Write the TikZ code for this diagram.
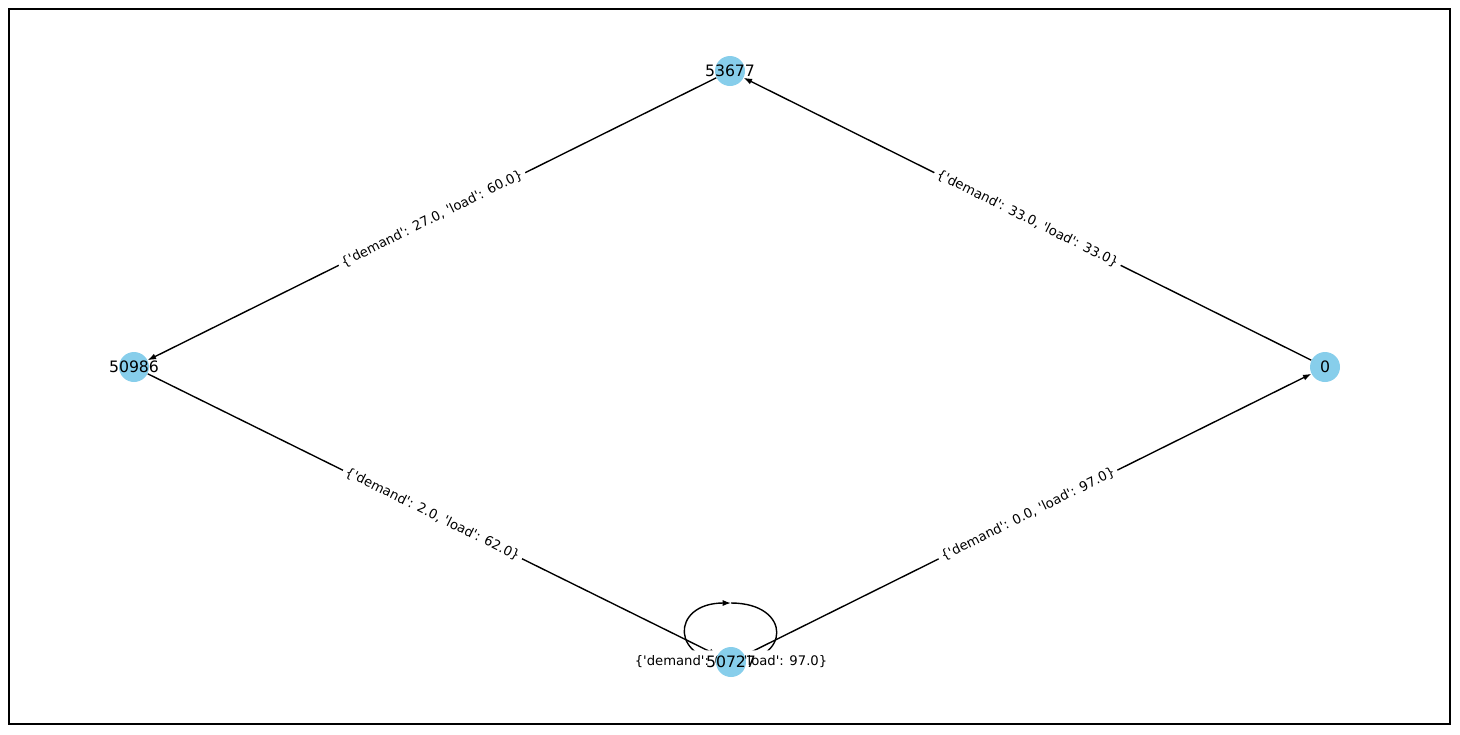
\documentclass[tikz,border=0pt]{standalone}
\usepackage{fontspec}
\newfontfamily\plotfont{DejaVu Sans}
\usetikzlibrary{arrows.meta}
\pgfdeclarelayer{back}
\pgfsetlayers{back,main}
\definecolor{skyblue}{HTML}{87CEEB}
\tikzset{
  vertex/.style={circle, fill=skyblue, inner sep=0pt, minimum size=21.6pt,
    label={[font=\plotfont\fontsize{11.3}{13}\selectfont]center:#1}},
  edge/.style={line width=1pt, -{Latex[length=6pt,width=4.4pt]}},
  elabel/.style={fill=white, inner xsep=2.5pt, inner ysep=4pt, rounded corners=2pt,
    font=\plotfont\fontsize{9.5}{11}\selectfont}
}
\begin{document}
\begin{tikzpicture}[x=0.72pt, y=-0.72pt]

	\useasboundingbox (0,0) rectangle (1460,734);
	\draw[line width=0.8pt] (9,9) rectangle (1450,724);

	\node[vertex=53677] (n53677) at (730,71) {};
	\node[vertex=50986] (n50986) at (134,367) {};
	\node[vertex=0] (n0) at (1325,367) {};
	\node[vertex=50727] (n50727) at (731,662) {};
	\coordinate (looptop) at (731,603);

	\begin{pgfonlayer}{back}
	\draw[edge] (n0) -- (n53677) node[elabel, midway, sloped] {\{'demand': 33.0, 'load': 33.0\}};
	\draw[edge] (n53677) -- (n50986) node[elabel, midway, sloped] {\{'demand': 27.0, 'load': 60.0\}};
	\draw[edge] (n50986) -- (n50727) node[elabel, midway, sloped] {\{'demand': 2.0, 'load': 62.0\}};
	\draw[edge] (n50727) -- (n0) node[elabel, midway, sloped] {\{'demand': 0.0, 'load': 97.0\}};
	\draw[edge] (looptop) .. controls +(61,0) and +(61,0) .. (n50727.center)
	  .. controls +(-61,0) and +(-61,0) .. (looptop);
	\node[elabel] (selflabel) at (n50727.center) {\{'demand': 0.0, 'load': 97.0\}};
	\end{pgfonlayer}

\end{tikzpicture}
\end{document}
